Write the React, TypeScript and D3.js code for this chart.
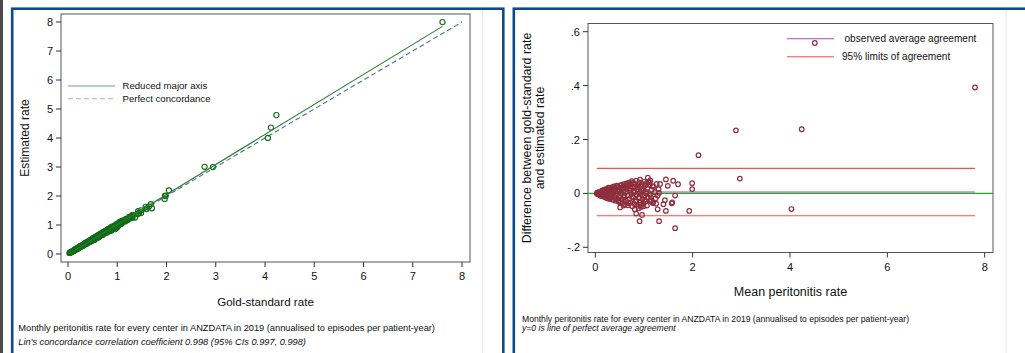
import React from 'react';
import * as d3 from 'd3';

// Bland-Altman data: mean of the two rates, difference (estimated - gold)
const meanRate = [
  7.80, 4.51, 2.89, 4.24, 2.12, 2.97, 4.03, 1.99, 1.99, 1.93,
  1.64, 1.31, 0.91, 1.45, 1.70, 1.60, 1.45, 1.49, 1.64, 1.58,
  1.43, 1.40, 1.08, 0.96, 0.84, 0.81, 0.89, 1.28, 1.25, 1.33,
  1.31, 1.57, 0.99, 0.68, 0.58, 0.51, 0.92, 1.11, 1.18, 1.14,
  1.19,
  0.03, 0.04, 0.05, 0.06, 0.07, 0.08, 0.09, 0.10, 0.11, 0.12,
  0.13, 0.14, 0.15, 0.16, 0.17, 0.18, 0.19, 0.20, 0.21, 0.22,
  0.23, 0.24, 0.25, 0.26, 0.27, 0.28, 0.29, 0.30, 0.31, 0.32,
  0.33, 0.34, 0.35, 0.36, 0.37, 0.38, 0.39, 0.40, 0.41, 0.42,
  0.43, 0.44, 0.45, 0.46, 0.47, 0.48, 0.49, 0.50, 0.51, 0.52,
  0.53, 0.54, 0.55, 0.56, 0.57, 0.58, 0.59, 0.60, 0.61, 0.62,
  0.63, 0.64, 0.65, 0.66, 0.67, 0.68, 0.69, 0.70, 0.71, 0.72,
  0.73, 0.74, 0.75, 0.76, 0.77, 0.78, 0.79, 0.80, 0.81, 0.82,
  0.83, 0.84, 0.85, 0.86, 0.87, 0.88, 0.89, 0.90, 0.91, 0.92,
  0.93, 0.94, 0.95, 0.96, 0.97, 0.98, 0.99, 1.00, 1.01, 1.02,
  1.03, 1.04, 1.05, 1.06, 1.07, 1.08, 1.10, 1.12, 1.13, 1.15,
  1.16, 1.18, 1.20, 1.22, 1.24, 1.26, 1.28, 1.30,
  0.05, 0.08, 0.12, 0.15, 0.18, 0.21, 0.24, 0.27, 0.30, 0.33,
  0.36, 0.39, 0.42, 0.45, 0.48, 0.51, 0.54, 0.57, 0.60, 0.63,
  0.66, 0.69, 0.72, 0.75, 0.78, 0.81, 0.84, 0.87, 0.90, 0.93,
  0.96, 0.99, 1.02, 1.05, 1.09, 1.14,
];
const diffRate = [
  0.393, 0.558, 0.234, 0.238, 0.142, 0.055, -0.058, 0.038, 0.016, -0.065,
  -0.129, -0.103, -0.103, -0.065, 0.034, 0.047, 0.052, 0.028, -0.008, -0.033,
  -0.025, -0.040, 0.058, -0.080, -0.075, -0.059, -0.055, -0.059, -0.038, 0.035,
  0.002, -0.037, -0.048, -0.033, -0.045, -0.052, 0.051, 0.042, 0.027, -0.014,
  -0.033,
  0.000, 0.002, -0.003, 0.004, -0.002, 0.001, -0.006, 0.005, -0.008, 0.003,
  0.009, -0.004, -0.011, 0.007, 0.012, -0.007, 0.002, -0.014, 0.010, 0.016,
  -0.003, -0.018, 0.006, 0.013, -0.010, 0.019, -0.021, 0.001, 0.008, -0.015,
  0.022, -0.006, 0.015, -0.024, 0.004, 0.026, -0.012, 0.011, -0.027, 0.018,
  -0.002, 0.029, -0.019, 0.007, -0.030, 0.023, -0.009, 0.014, -0.033, 0.031,
  0.000, -0.022, 0.020, -0.036, 0.010, 0.034, -0.014, 0.025, -0.040, 0.005,
  -0.027, 0.037, 0.016, -0.008, -0.044, 0.028, 0.040, -0.020, 0.012, -0.034,
  0.033, -0.003, 0.045, -0.048, 0.021, -0.015, 0.008, 0.036, -0.040, 0.024,
  -0.026, 0.047, -0.006, 0.015, -0.046, 0.030, -0.018, 0.041, 0.002, -0.032,
  0.026, -0.050, 0.010, 0.035, -0.022, 0.018, -0.038, 0.044, -0.010, 0.028,
  -0.030, 0.006, 0.038, -0.045, 0.020, -0.016, 0.032, -0.004, 0.048, -0.025,
  0.014, -0.036, 0.024, 0.004, -0.018, 0.035, -0.008, 0.016,
  0.004, -0.005, -0.009, 0.010, 0.014, -0.012, 0.011, 0.021, -0.017, -0.009,
  0.018, 0.024, -0.020, 0.027, -0.026, 0.012, 0.030, -0.024, -0.007, 0.022,
  0.032, -0.037, 0.018, -0.012, 0.040, 0.004, -0.031, 0.022, -0.014, -0.042,
  -0.004, 0.012, -0.024, 0.000, 0.041, -0.030,
];

const meanDiff = 0.005;
const limitsOfAgreement = [-0.083, 0.093];
const rmaIntercept = -0.02;
const rmaSlope = 1.035;

const leftTicks = [0, 1, 2, 3, 4, 5, 6, 7, 8];
const rightXTicks = [0, 2, 4, 6, 8];
const rightYTicks = [0.6, 0.4, 0.2, 0, -0.2];
const rightYTickLabels = ['.6', '.4', '.2', '0', '-.2'];

const goldRate = meanRate.map((m, i) => m - diffRate[i] / 2);
const estRate = meanRate.map((m, i) => m + diffRate[i] / 2);

const FONT = '"Liberation Sans", Arial, Helvetica, sans-serif';
const BLUE = '#0e4a8a';

export default function App() {
  // left panel scales
  const xL = d3.scaleLinear().domain([0, 8]).range([68, 462]);
  const yL = d3.scaleLinear().domain([0, 8]).range([254, 22]);
  const L = { x0: 61, x1: 470, y0: 14, y1: 262 };
  // right panel scales
  const xR = d3.scaleLinear().domain([0, 8]).range([595.3, 984.7]);
  const yR = d3.scaleLinear().domain([-0.2, 0.6]).range([247.3, 31.7]);
  const R = { x0: 588, x1: 993, y0: 23.5, y1: 252.5 };

  const gMin = d3.min(goldRate) as number;
  const gMax = d3.max(goldRate) as number;
  const mMin = d3.min(meanRate) as number;
  const mMax = d3.max(meanRate) as number;

  const line = d3.line<[number, number]>();

  return (
    <svg width={1025} height={353} style={{ position: 'absolute', left: 0, top: 0, background: '#fff' }} fontFamily={FONT}>
      <rect x={0} y={0} width={1025} height={353} fill="#fff" />
      <rect x={0} y={0} width={3} height={353} fill="#4a4a4a" />
      {/* panel frames */}
      <line x1={482.7} y1={10} x2={482.7} y2={353} stroke="#e4e4e4" strokeWidth={1} />
      <line x1={1006} y1={10} x2={1006} y2={353} stroke="#e4e4e4" strokeWidth={1} />
      <rect x={12.2} y={8.7} width={491.1} height={360} fill="none" stroke={BLUE} strokeWidth={2.6} />
      <rect x={513.8} y={8.7} width={530} height={360} fill="none" stroke={BLUE} strokeWidth={2.6} />

      {/* ===== LEFT PANEL ===== */}
      <rect x={L.x0} y={L.y0} width={L.x1 - L.x0} height={L.y1 - L.y0} fill="none" stroke="#555" strokeWidth={1} />
      {leftTicks.map((t) => (
        <g key={'ly' + t}>
          <line x1={L.x0 - 5} x2={L.x0} y1={yL(t)} y2={yL(t)} stroke="#333" />
          <text x={L.x0 - 8} y={yL(t) + 4} fontSize={11} textAnchor="end" fill="#111">{t}</text>
        </g>
      ))}
      {leftTicks.map((t) => (
        <g key={'lx' + t}>
          <line x1={xL(t)} x2={xL(t)} y1={L.y1} y2={L.y1 + 5} stroke="#333" />
          <text x={xL(t)} y={279.5} fontSize={11} textAnchor="middle" fill="#111">{t}</text>
        </g>
      ))}
      <text x={(L.x0 + L.x1) / 2} y={305.5} fontSize={11.6} textAnchor="middle" fill="#111">Gold-standard rate</text>
      <text transform={`translate(28.5,${(L.y0 + L.y1) / 2}) rotate(-90)`} fontSize={12} textAnchor="middle" fill="#111">Estimated rate</text>

      <path d={line([[xL(0), yL(0)], [xL(8), yL(8)]])!} stroke="#4a6fa8" strokeWidth={1.1} strokeDasharray="5,3" fill="none" />
      {goldRate.map((g, i) => (
        <circle key={'lp' + i} cx={xL(g)} cy={yL(estRate[i])} r={2.6} fill="none" stroke="#136c18" strokeWidth={1.1} />
      ))}
      <path
        d={line([[xL(gMin), yL(rmaIntercept + rmaSlope * gMin)], [xL(gMax), yL(rmaIntercept + rmaSlope * gMax)]])!}
        stroke="#2b7d2b" strokeWidth={1.1} fill="none"
      />
      {/* left legend */}
      <line x1={68} x2={115} y1={86} y2={86} stroke="#6aa86a" strokeWidth={1.1} />
      <line x1={68} x2={115} y1={98.7} y2={98.7} stroke="#a4b8a4" strokeWidth={1.1} strokeDasharray="5,3" />
      <text x={122.5} y={89.3} fontSize={9.6} fill="#111">Reduced major axis</text>
      <text x={122.5} y={102} fontSize={9.6} fill="#111">Perfect concordance</text>

      <text x={18.3} y={331} fontSize={9.25} fill="#111">Monthly peritonitis rate for every center in ANZDATA in 2019 (annualised to episodes per patient-year)</text>
      <text x={18.3} y={345.2} fontSize={9.25} fontStyle="italic" fill="#111">Lin's concordance correlation coefficient 0.998 (95% CIs 0.997, 0.998)</text>

      {/* ===== RIGHT PANEL ===== */}
      <rect x={R.x0} y={R.y0} width={R.x1 - R.x0} height={R.y1 - R.y0} fill="none" stroke="#555" strokeWidth={1} />
      {rightYTicks.map((t, i) => (
        <g key={'ry' + i}>
          <line x1={R.x0 - 5} x2={R.x0} y1={yR(t)} y2={yR(t)} stroke="#333" />
          <text x={R.x0 - 8} y={yR(t) + 4} fontSize={11} textAnchor="end" fill="#111">{rightYTickLabels[i]}</text>
        </g>
      ))}
      {rightXTicks.map((t) => (
        <g key={'rx' + t}>
          <line x1={xR(t)} x2={xR(t)} y1={R.y1} y2={R.y1 + 5} stroke="#333" />
          <text x={xR(t)} y={271} fontSize={11} textAnchor="middle" fill="#111">{t}</text>
        </g>
      ))}
      <text x={(R.x0 + R.x1) / 2} y={296} fontSize={12.5} textAnchor="middle" fill="#111">Mean peritonitis rate</text>
      <text transform={`translate(530.5,${(R.y0 + R.y1) / 2}) rotate(-90)`} fontSize={12.4} textAnchor="middle" fill="#111">Difference between gold-standard rate</text>
      <text transform={`translate(543.5,${(R.y0 + R.y1) / 2}) rotate(-90)`} fontSize={12.4} textAnchor="middle" fill="#111">and estimated rate</text>

      <line x1={R.x0} x2={R.x1} y1={yR(0)} y2={yR(0)} stroke="#1fae1f" strokeWidth={1.2} />
      {limitsOfAgreement.map((v, i) => (
        <line key={'loa' + i} x1={xR(mMin)} x2={xR(mMax)} y1={yR(v)} y2={yR(v)} stroke="#ff4d4d" strokeWidth={1.1} />
      ))}
      <line x1={xR(mMin)} x2={xR(mMax)} y1={yR(meanDiff)} y2={yR(meanDiff)} stroke="#b044c4" strokeWidth={1.1} />
      {meanRate.map((m, i) => (
        <circle key={'rp' + i} cx={xR(m)} cy={yR(diffRate[i])} r={2.3} fill="none" stroke="#8e2f3e" strokeWidth={1.2} />
      ))}
      {/* right legend */}
      <line x1={787} x2={834} y1={38.7} y2={38.7} stroke="#b044c4" strokeWidth={1.1} />
      <line x1={787} x2={834} y1={56.7} y2={56.7} stroke="#ff4d4d" strokeWidth={1.1} />
      <text x={844.5} y={42.3} fontSize={10.1} fill="#111">observed average agreement</text>
      <text x={842} y={60.3} fontSize={10.1} fill="#111">95% limits of agreement</text>

      <text x={522} y={322} fontSize={8.6} fill="#111">Monthly peritonitis rate for every center in ANZDATA in 2019 (annualised to episodes per patient-year)</text>
      <text x={522} y={330.5} fontSize={8.6} fontStyle="italic" fill="#111">y=0 is line of perfect average agreement</text>
    </svg>
  );
}
